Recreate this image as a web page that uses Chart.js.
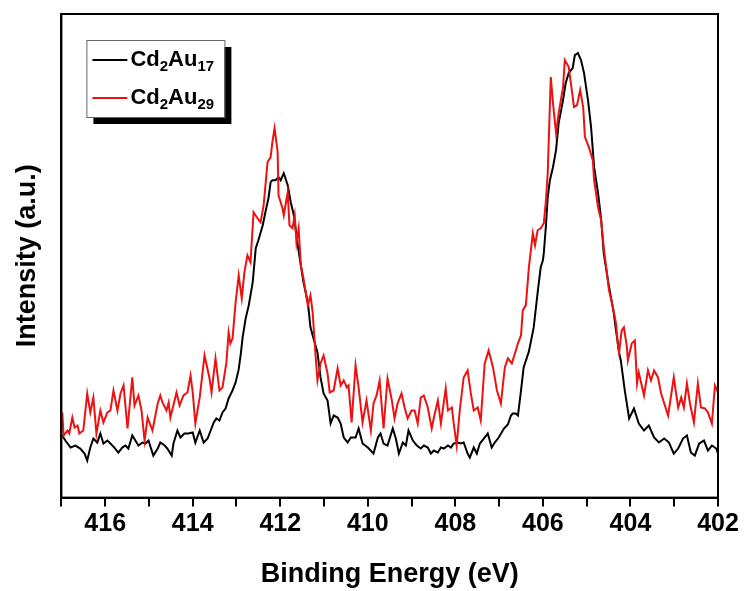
<!DOCTYPE html>
<html>
<head>
<meta charset="utf-8">
<script src="https://cdn.jsdelivr.net/npm/chart.js@4.4.1/dist/chart.umd.min.js"></script>
<style>
  body { margin: 0; background: #fff; }
  #xps { display: block; }
</style>
</head>
<body>
<canvas id="xps" width="745" height="591"></canvas>
<script>
// Binding energies (eV) and intensities (a.u.)
const energyAu17 = [
    416.98, 416.91, 416.79, 416.68, 416.57, 416.47, 416.41, 416.34, 416.27, 416.18,
    416.11, 416.04, 415.95, 415.88, 415.79, 415.70, 415.61, 415.54, 415.47, 415.38,
    415.31, 415.24, 415.15, 415.08, 415.01, 414.90, 414.80, 414.74, 414.64, 414.58,
    414.48, 414.44, 414.35, 414.28, 414.19, 414.10, 414.00, 413.94, 413.84, 413.75,
    413.66, 413.59, 413.52, 413.46, 413.39, 413.32, 413.25, 413.18, 413.09, 413.02,
    412.95, 412.90, 412.86, 412.79, 412.72, 412.63, 412.56, 412.50, 412.40, 412.34,
    412.27, 412.22, 412.18, 412.11, 412.04, 411.99, 411.92, 411.83, 411.76, 411.69,
    411.60, 411.53, 411.47, 411.37, 411.31, 411.24, 411.15, 411.08, 411.01, 410.92,
    410.85, 410.78, 410.69, 410.62, 410.55, 410.46, 410.39, 410.28, 410.21, 410.12,
    410.00, 409.87, 409.77, 409.71, 409.64, 409.55, 409.43, 409.36, 409.29, 409.20,
    409.13, 409.07, 408.97, 408.88, 408.79, 408.72, 408.63, 408.56, 408.49, 408.40,
    408.33, 408.26, 408.17, 408.10, 408.04, 407.94, 407.88, 407.81, 407.72, 407.67,
    407.58, 407.51, 407.44, 407.35, 407.26, 407.17, 407.10, 407.01, 406.89, 406.80,
    406.73, 406.69, 406.62, 406.57, 406.50, 406.44, 406.32, 406.21, 406.12, 406.05,
    406.00, 405.98, 405.93, 405.89, 405.84, 405.77, 405.70, 405.64, 405.54, 405.48,
    405.41, 405.32, 405.27, 405.20, 405.13, 405.06, 404.97, 404.90, 404.83, 404.74,
    404.67, 404.61, 404.51, 404.38, 404.33, 404.26, 404.22, 404.13, 404.03, 403.92,
    403.81, 403.69, 403.58, 403.46, 403.35, 403.23, 403.12, 403.01, 402.91, 402.80,
    402.71, 402.62, 402.53, 402.43, 402.32, 402.23, 402.14, 402.04, 402.00
];
const intensityAu17 = [
    62, 57, 50, 52, 49, 44, 37, 50, 59, 55,
    64, 54, 57, 54, 50, 45, 50, 52, 49, 62,
    57, 52, 55, 54, 57, 42, 49, 55, 52, 49,
    42, 54, 67, 60, 64, 64, 65, 55, 67, 55,
    59, 67, 75, 79, 77, 85, 89, 99, 107, 115,
    128, 144, 160, 179, 192, 215, 249, 257, 272, 285,
    299, 315, 317, 317, 320, 317, 324, 312, 295, 282,
    252, 232, 215, 195, 170, 159, 145, 120, 104, 97,
    74, 82, 80, 74, 60, 55, 60, 60, 69, 54,
    50, 44, 60, 64, 54, 52, 69, 59, 44, 55,
    52, 67, 57, 52, 49, 52, 50, 44, 47, 45,
    50, 49, 52, 50, 54, 55, 54, 55, 44, 40,
    50, 44, 54, 59, 64, 50, 55, 60, 69, 73,
    82, 84, 84, 82, 107, 130, 146, 170, 205, 230,
    237, 244, 272, 300, 317, 330, 347, 374, 397, 414,
    424, 429, 442, 444, 437, 424, 397, 370, 330, 304,
    278, 244, 216, 184, 167, 145, 137, 107, 79, 89,
    74, 67, 72, 60, 55, 59, 55, 44, 49, 59,
    62, 45, 42, 54, 57, 47, 52, 49, 44
];

const energyAu29 = [
    416.98, 416.95, 416.86, 416.82, 416.75, 416.70, 416.63, 416.59, 416.50, 416.41,
    416.34, 416.27, 416.20, 416.11, 416.04, 415.95, 415.88, 415.81, 415.72, 415.65,
    415.58, 415.49, 415.38, 415.33, 415.24, 415.17, 415.10, 415.03, 414.92, 414.80,
    414.74, 414.69, 414.60, 414.55, 414.51, 414.37, 414.30, 414.21, 414.12, 414.05,
    414.00, 413.94, 413.84, 413.73, 413.62, 413.57, 413.48, 413.39, 413.32, 413.23,
    413.18, 413.14, 413.09, 413.02, 412.95, 412.88, 412.82, 412.75, 412.68, 412.61,
    412.52, 412.45, 412.38, 412.29, 412.22, 412.18, 412.13, 412.06, 412.04, 411.95,
    411.92, 411.83, 411.79, 411.72, 411.67, 411.63, 411.58, 411.53, 411.47, 411.37,
    411.31, 411.26, 411.19, 411.15, 411.08, 411.01, 410.92, 410.87, 410.78, 410.69,
    410.62, 410.55, 410.48, 410.44, 410.37, 410.28, 410.21, 410.12, 410.03, 409.93,
    409.87, 409.80, 409.73, 409.64, 409.55, 409.45, 409.39, 409.32, 409.23, 409.16,
    409.09, 409.00, 408.93, 408.86, 408.79, 408.72, 408.63, 408.54, 408.49, 408.40,
    408.33, 408.22, 408.17, 408.08, 408.04, 407.97, 407.90, 407.81, 407.72, 407.65,
    407.58, 407.49, 407.42, 407.33, 407.24, 407.14, 407.05, 406.96, 406.87, 406.80,
    406.71, 406.64, 406.57, 406.50, 406.46, 406.39, 406.32, 406.23, 406.18, 406.12,
    406.05, 405.98, 405.93, 405.89, 405.82, 405.77, 405.70, 405.64, 405.54, 405.50,
    405.41, 405.34, 405.29, 405.22, 405.15, 405.08, 405.04, 404.95, 404.86, 404.83,
    404.74, 404.67, 404.61, 404.49, 404.40, 404.33, 404.29, 404.26, 404.20, 404.15,
    404.08, 404.06, 403.97, 403.90, 403.85, 403.81, 403.69, 403.60, 403.53, 403.46,
    403.37, 403.30, 403.14, 403.01, 402.91, 402.84, 402.78, 402.71, 402.64, 402.55,
    402.46, 402.39, 402.30, 402.23, 402.14, 402.07, 402.00
];
const intensityAu29 = [
    85, 62, 67, 64, 80, 70, 72, 64, 67, 104,
    85, 100, 64, 87, 75, 85, 87, 107, 87, 104,
    112, 69, 120, 92, 102, 87, 57, 80, 67, 94,
    102, 95, 87, 95, 80, 105, 92, 102, 105, 122,
    105, 74, 100, 142, 120, 105, 139, 107, 110, 135,
    165, 154, 159, 195, 222, 199, 225, 242, 235, 285,
    279, 275, 292, 335, 340, 355, 369, 345, 302, 289,
    282, 305, 272, 269, 282, 255, 269, 232, 219, 192,
    202, 185, 140, 117, 134, 142, 124, 105, 107, 129,
    112, 117, 110, 112, 75, 132, 110, 75, 97, 67,
    94, 102, 117, 69, 119, 97, 79, 94, 104, 90,
    79, 87, 87, 74, 100, 102, 90, 69, 80, 97,
    74, 109, 87, 90, 75, 52, 87, 120, 127, 105,
    87, 90, 77, 134, 147, 130, 107, 94, 130, 139,
    134, 144, 154, 162, 187, 192, 230, 264, 252, 267,
    269, 274, 297, 324, 420, 394, 364, 384, 410, 437,
    430, 407, 390, 392, 407, 390, 360, 350, 337, 317,
    290, 277, 250, 207, 190, 174, 154, 145, 167, 170,
    150, 137, 154, 157, 114, 125, 102, 127, 117, 127,
    120, 104, 82, 120, 90, 100, 90, 114, 94, 75,
    114, 90, 89, 85, 74, 112, 105
];

const seriesNames = ["Cd2Au17", "Cd2Au29"];
const seriesColors = ["#000000", "#ee1111"];

const FONT = "'Liberation Sans', Arial, sans-serif";

// Build {x, y} points from the arrays
function toPoints(xs, ys) {
    return xs.map((x, i) => ({ x: x, y: ys[i] }));
}

// Frame round the plot area
const framePlugin = {
    id: "frame",
    afterDraw(chart) {
        const { ctx, chartArea } = chart;
        ctx.save();
        ctx.strokeStyle = "#000";
        ctx.lineWidth = 2;
        ctx.strokeRect(chartArea.left, chartArea.top, chartArea.right - chartArea.left, chartArea.bottom - chartArea.top);
        ctx.restore();
    },
};

// Legend with subscripts and drop shadow
function drawFormula(ctx, x, y, parts) {
    let cx = x;
    parts.forEach(([text, sub]) => {
        ctx.font = sub ? "bold 15px " + FONT : "bold 22px " + FONT;
        ctx.fillText(text, cx, sub ? y + 7 : y);
        cx += ctx.measureText(text).width;
    });
}

const legendPlugin = {
    id: "subLegend",
    afterDraw(chart) {
        const { ctx, chartArea } = chart;
        const left = chartArea.left + 25;
        const top = chartArea.top + 26;
        const w = 138, h = 77;
        ctx.save();
        ctx.fillStyle = "#000";
        ctx.fillRect(left + 7, top + 7, w, h);
        ctx.fillStyle = "#fff";
        ctx.fillRect(left, top, w, h);
        ctx.strokeStyle = "#666";
        ctx.lineWidth = 1;
        ctx.strokeRect(left + 0.5, top + 0.5, w, h);

        const rows = [
            [["Cd", false], ["2", true], ["Au", false], ["17", true]],
            [["Cd", false], ["2", true], ["Au", false], ["29", true]],
        ];
        rows.forEach((parts, i) => {
            const y = top + 20 + i * 38;
            ctx.strokeStyle = seriesColors[i];
            ctx.lineWidth = 2;
            ctx.beginPath();
            ctx.moveTo(left + 6, y);
            ctx.lineTo(left + 41, y);
            ctx.stroke();
            ctx.fillStyle = "#000";
            ctx.textBaseline = "middle";
            drawFormula(ctx, left + 44, y, parts);
        });
        ctx.restore();
    },
};

new Chart(document.getElementById("xps"), {
    type: "line",
    data: {
        datasets: [
            {
                label: seriesNames[0],
                data: toPoints(energyAu17, intensityAu17),
                borderColor: seriesColors[0],
                borderWidth: 2,
                pointRadius: 0,
                tension: 0,
                order: 1,
            },
            {
                label: seriesNames[1],
                data: toPoints(energyAu29, intensityAu29),
                borderColor: seriesColors[1],
                borderWidth: 2,
                pointRadius: 0,
                tension: 0,
                order: 0,
            },
        ],
    },
    options: {
        responsive: false,
        devicePixelRatio: 1,
        animation: false,
        layout: { padding: { left: 11, right: 27, top: 14, bottom: 0 } },
        plugins: {
            legend: { display: false },
            tooltip: { enabled: false },
        },
        scales: {
            x: {
                type: "linear",
                reverse: true,
                min: 402,
                max: 417,
                border: { color: "#000", width: 2 },
                grid: { drawOnChartArea: false, drawTicks: true, tickLength: 9, color: "#000", lineWidth: 2 },
                ticks: {
                    stepSize: 1,
                    autoSkip: false,
                    maxRotation: 0,
                    padding: 3,
                    color: "#000",
                    font: { family: FONT, size: 25, weight: "bold" },
                    callback: (v) => (v % 2 === 0 ? String(v) : ""),
                },
                title: {
                    display: true,
                    text: "Binding Energy (eV)",
                    color: "#000",
                    font: { family: FONT, size: 27, weight: "bold" },
                    padding: { top: 16, bottom: 0 },
                },
            },
            y: {
                min: 0,
                max: 483,
                border: { color: "#000", width: 2 },
                grid: { display: false },
                ticks: { display: false },
                title: {
                    display: true,
                    text: "Intensity (a.u.)",
                    color: "#000",
                    font: { family: FONT, size: 27, weight: "bold" },
                    padding: { top: 0, bottom: 10 },
                },
            },
        },
    },
    plugins: [framePlugin, legendPlugin],
});
</script>
</body>
</html>
